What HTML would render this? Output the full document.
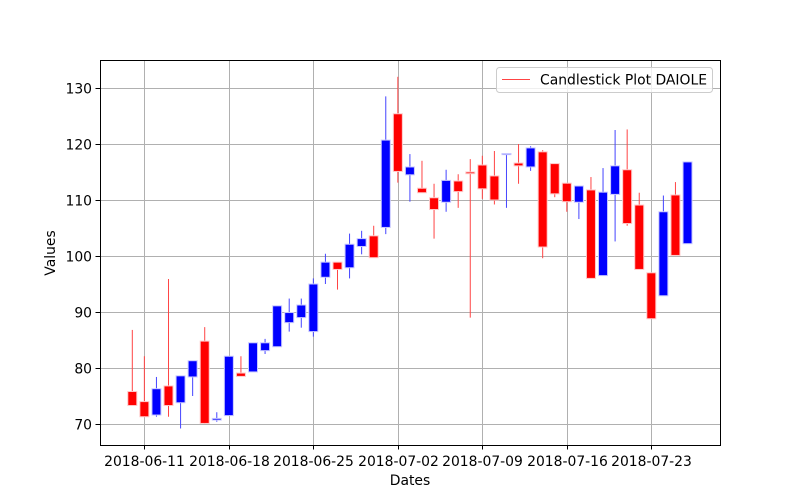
<!DOCTYPE html>
<html><head><meta charset="utf-8"><style>
html,body{margin:0;padding:0;background:#fff;}
svg{display:block;font-family:"DejaVu Sans","Liberation Sans",sans-serif;}
</style></head><body>
<svg id="chart" width="800" height="500" viewBox="0 0 800 500" xmlns="http://www.w3.org/2000/svg">
<rect x="0" y="0" width="800" height="500" fill="#fff"/>
<g id="grid"></g>
<g id="candles"></g>
<rect x="100.5" y="60.5" width="620" height="385" fill="none" stroke="#000" stroke-width="1"/>
<g id="xticks"></g>
<g id="yticks"></g>
<text x="410" y="485" font-size="13.9" text-anchor="middle">Dates</text>
<text x="55" y="253" font-size="13.9" text-anchor="middle" transform="rotate(-90 55 253)">Values</text>
<g>
<rect x="496.5" y="67.5" width="216" height="25" rx="3" fill="#fff" fill-opacity="0.8" stroke="#ccc"/>
<line x1="502" y1="79.5" x2="530" y2="79.5" stroke="#f44" stroke-width="1"/>
<text x="540" y="84.5" font-size="13.9">Candlestick Plot DAIOLE</text>
</g>
</svg>
<script>
const startDate = "2018-06-10";
const opens  = [75.8,74.0,71.6,76.8,73.8,78.4,84.8,70.7,71.5,79.1,79.3,83.1,83.8,88.1,89.0,86.5,96.2,98.9,97.9,101.7,103.6,105.1,125.4,114.5,112.1,110.4,109.6,113.4,115.0,116.25,114.3,118.1,116.6,115.9,118.6,116.5,113.0,109.6,111.8,96.5,111.0,115.4,109.1,97.0,92.9,110.9,102.2];
const highs  = [86.8,82.1,78.4,95.9,78.6,81.3,87.3,72.1,82.1,82.1,84.5,85.2,91.1,92.4,92.4,96.0,100.4,98.9,104.0,104.5,105.4,128.5,132.0,118.2,117.0,112.9,115.4,114.6,117.3,117.9,118.75,118.3,120.0,119.6,118.9,116.5,113.0,112.5,114.1,115.7,122.5,122.6,111.3,97.0,110.8,113.2,116.8];
const lows   = [73.3,71.3,71.3,71.3,69.2,75.0,70.0,70.4,71.5,78.5,79.3,82.5,83.8,86.5,87.2,85.6,95.0,94.0,96.0,100.3,99.7,103.9,113.1,109.7,111.3,103.1,107.9,108.6,89.0,110.2,109.2,108.6,112.9,115.2,99.6,110.5,107.9,106.6,96.0,96.5,102.6,105.4,97.6,88.8,92.9,100.1,102.2];
const closes = [73.3,71.3,76.3,73.3,78.6,81.3,70.1,71.0,82.1,78.5,84.5,84.5,91.1,89.9,91.25,95.0,98.9,97.6,102.1,103.1,99.7,120.7,115.1,115.9,111.3,108.3,113.5,111.5,114.7,112.0,110.0,118.3,116.1,119.3,101.6,111.1,109.7,112.5,96.0,111.4,116.1,105.8,97.6,88.8,107.9,100.1,116.8];
const xTickLabels = ["2018-06-11","2018-06-18","2018-06-25","2018-07-02","2018-07-09","2018-07-16","2018-07-23"];
const yTickValues = [70,80,90,100,110,120,130];

const NS="http://www.w3.org/2000/svg";
const day0 = Date.parse(startDate+"T00:00:00Z");
function dayIndex(s){return (Date.parse(s+"T00:00:00Z")-day0)/86400000;}
function xScale(i){return 132.3 + i*12.07;}
function yScale(v){return 424 - (v-70)*5.6;}
function mk(tag,attrs,parent){const e=document.createElementNS(NS,tag);for(const k in attrs)e.setAttribute(k,attrs[k]);parent.appendChild(e);return e;}
const grid=document.getElementById('grid'),xt=document.getElementById('xticks'),yt=document.getElementById('yticks'),cg=document.getElementById('candles');
xTickLabels.forEach(l=>{
  const x=Math.round(xScale(dayIndex(l)))+0.5;
  const g=mk('line',{x1:x,x2:x,y1:60,y2:445,stroke:'#b0b0b0','stroke-width':1},grid);
  
  
  const t=mk('line',{x1:x,x2:x,y1:445,y2:449.5,stroke:'#000'},xt);
  
  
  const tx=mk('text',{x:x,y:466,'font-size':13.9,'text-anchor':'middle'},xt);
  tx.textContent=l;
  
  
});
yTickValues.forEach(v=>{
  const y=Math.round(yScale(v))+0.5;
  const g=mk('line',{x1:100,x2:720,y1:y,y2:y,stroke:'#b0b0b0','stroke-width':1},grid);
  
  
  const t=mk('line',{x1:95.5,x2:100,y1:y,y2:y,stroke:'#000'},yt);
  
  
  const tx=mk('text',{x:92,y:y+5,'font-size':13.9,'text-anchor':'end'},yt);
  tx.textContent=v;
  
  
});
opens.forEach((o,i)=>{
  const c=closes[i],h=highs[i],l=lows[i];
  const up=c>=o, col=up?'#0000ff':'#ff0000', wcol=up?'#4444ff':'#ff4444';
  const x=xScale(i);
  const w=mk('line',{x1:x,x2:x,y1:yScale(h),y2:yScale(l),stroke:wcol,'stroke-width':1},cg);
  
  
  const top=yScale(Math.max(o,c)),bot=yScale(Math.min(o,c));
  const b=mk('rect',{x:x-4.5,y:top,width:9,height:Math.max(bot-top,1),fill:col,stroke:up?'#c8c8ff':'#ffc8c8','stroke-width':1},cg);
  
  
});
</script>
</body></html>
